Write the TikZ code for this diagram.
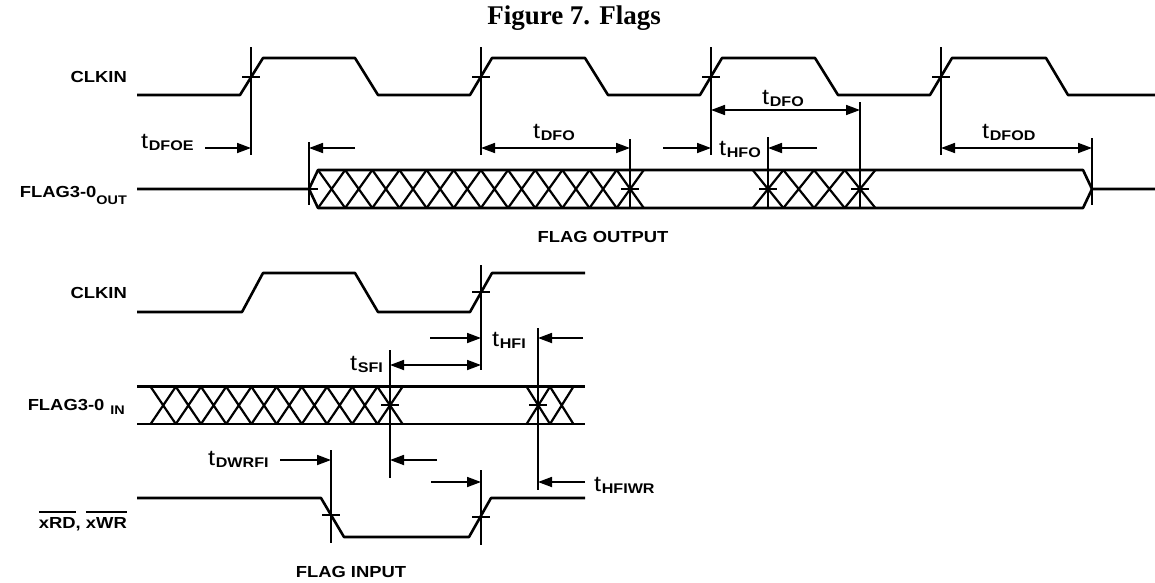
\documentclass[tikz,border=0pt]{standalone}
\usepackage{fontspec}
\setmainfont{Liberation Sans}
\newfontfamily\titlefont{Liberation Serif}
\usetikzlibrary{arrows.meta}
\newcommand\wideTxt[1]{\scalebox{1.15}[1]{#1}}
\newcommand\sig[1]{{\fontsize{16}{16}\selectfont\bfseries\wideTxt{#1}}}
\newcommand\subsig[1]{{\fontsize{12.5}{12.5}\selectfont\bfseries\wideTxt{#1}}}
\newcommand\tlab[1]{{\fontsize{22}{22}\selectfont\wideTxt{t}}\kern0.6pt\raisebox{-2pt}{\fontsize{14}{14}\selectfont\bfseries\wideTxt{#1}}}
\newcommand\ovl[1]{\vbox{\hrule height 1.7pt\kern 4pt\hbox{#1}}}
\tikzset{
  wave/.style={line width=2.6pt, line join=round},
  hatch/.style={line width=2.2pt},
  vline/.style={line width=1.1pt},
  tick/.style={line width=1.3pt},
  dim/.style={line width=1.7pt, >={Triangle[length=14pt,width=10pt]}},
  lab/.style={inner sep=0pt, anchor=base west},
  siglab/.style={inner sep=0pt, anchor=base east},
}
\begin{document}
\begin{tikzpicture}[x=1pt,y=-1pt]
\fill[white] (0,0) rectangle (1155,582);
\useasboundingbox (0,0) rectangle (1155,582);

% title
\node[inner sep=0pt] (title) at (574,18) {\titlefont\bfseries\fontsize{27}{27}\selectfont Figure 7. Flags};

% ---------------- FLAG OUTPUT ----------------
\node[siglab] (clk1) at (127,82) {\sig{CLKIN}};
\node[siglab] (fout) at (127,197) {\sig{FLAG3-0}\raisebox{-7pt}{\subsig{OUT}}};
\node[inner sep=0pt] (flagout) at (603,237) {\sig{FLAG OUTPUT}};

% clock
\draw[wave] (137,95) -- (240,95) -- (263,58) -- (355,58) -- (378,95) -- (470,95) -- (492,58)
  -- (585,58) -- (608,95) -- (700,95) -- (722,58) -- (815,58) -- (838,95) -- (930,95)
  -- (952,58) -- (1046,58) -- (1068,95) -- (1155,95);

% bus
\draw[wave] (137,189) -- (309,189) -- (318,170) -- (1083,170) -- (1092,189) -- (1155,189);
\draw[wave] (309,189) -- (318,208) -- (1083,208) -- (1092,189);
\foreach \k in {0,...,11} {
  \pgfmathsetmacro\xa{318+27.15*\k}
  \pgfmathsetmacro\xb{318+27.15*(\k+1)}
  \draw[hatch] (\xa,170) -- (\xb,208) (\xa,208) -- (\xb,170);
}
\foreach \k in {0,...,3} {
  \pgfmathsetmacro\xa{752.7+30.67*\k}
  \pgfmathsetmacro\xb{752.7+30.67*(\k+1)}
  \draw[hatch] (\xa,170) -- (\xb,208) (\xa,208) -- (\xb,170);
}

% vertical reference lines
\draw[vline] (251,47) -- (251,155);
\draw[vline] (481,47) -- (481,155);
\draw[vline] (711,47) -- (711,155);
\draw[vline] (941,47) -- (941,155);
\draw[vline] (309,142) -- (309,205);
\draw[vline] (630,139) -- (630,208);
\draw[vline] (768,137) -- (768,208);
\draw[vline] (860,102) -- (860,208);
\draw[vline] (1092,138) -- (1092,205);

% crossing ticks
\foreach \x in {251,481,711,941} \draw[tick] (\x-9,77) -- (\x+9,77);
\foreach \x in {309,630,768,860} \draw[tick] (\x-9,189) -- (\x+9,189);

% dimension coordinates
\coordinate (a1s) at (205,148); \coordinate (a1e) at (251,148);
\coordinate (a2s) at (355,148); \coordinate (a2e) at (309,148);
\coordinate (a3s) at (481,148); \coordinate (a3e) at (630,148);
\coordinate (a4s) at (663,148); \coordinate (a4e) at (711,148);
\coordinate (a5s) at (817,148); \coordinate (a5e) at (768,148);
\coordinate (a6s) at (711,110); \coordinate (a6e) at (860,110);
\coordinate (a7s) at (941,148); \coordinate (a7e) at (1092,148);
\draw[dim,->] (a1s) -- (a1e);
\draw[dim,->] (a2s) -- (a2e);
\draw[dim,<->] (a3s) -- (a3e);
\draw[dim,->] (a4s) -- (a4e);
\draw[dim,->] (a5s) -- (a5e);
\draw[dim,<->] (a6s) -- (a6e);
\draw[dim,<->] (a7s) -- (a7e);

\node[lab] (tdfoe) at (141,148) {\tlab{DFOE}};
\node[lab] (tdfo1) at (533,138) {\tlab{DFO}};
\node[lab] (tdfo2) at (762,104) {\tlab{DFO}};
\node[lab] (thfo) at (719,155) {\tlab{HFO}};
\node[lab] (tdfod) at (982,138) {\tlab{DFOD}};

% ---------------- FLAG INPUT ----------------
\node[siglab] (clk2) at (127,298) {\sig{CLKIN}};
\node[siglab] (fin) at (125,410) {\sig{FLAG3-0}\kern6pt\raisebox{-4pt}{\subsig{IN}}};
\node[siglab] (xrd) at (127,528) {\sig{\ovl{xRD}, \ovl{xWR}}};
\node[inner sep=0pt] (flagin) at (351,572) {\sig{FLAG INPUT}};

\draw[wave] (137,312) -- (242,312) -- (263,273) -- (355,273) -- (378,312) -- (470,312) -- (492,273) -- (585,273);

\draw[wave] (137,386.7) -- (585,386.7);
\draw[wave] (137,424) -- (585,424);
\foreach \k in {0,...,9} {
  \pgfmathsetmacro\xa{150.6+25.2*\k}
  \pgfmathsetmacro\xb{150.6+25.2*(\k+1)}
  \draw[hatch] (\xa,386.7) -- (\xb,424) (\xa,424) -- (\xb,386.7);
}
\foreach \k in {0,1} {
  \pgfmathsetmacro\xa{526.6+23.4*\k}
  \pgfmathsetmacro\xb{526.6+23.4*(\k+1)}
  \draw[hatch] (\xa,386.7) -- (\xb,424) (\xa,424) -- (\xb,386.7);
}

\draw[wave] (137,498) -- (321,498) -- (344,537) -- (469,537) -- (491,498) -- (585,498);

\draw[vline] (481,265) -- (481,370);
\draw[vline] (538,328) -- (538,490);
\draw[vline] (390,350) -- (390,478);
\draw[vline] (331,450) -- (331,543);
\draw[vline] (481,470) -- (481,545);

\draw[tick] (472,292) -- (490,292);
\draw[tick] (381,405) -- (399,405);
\draw[tick] (529,405) -- (547,405);
\draw[tick] (322,515) -- (340,515);
\draw[tick] (472,517) -- (490,517);

\coordinate (b1s) at (430,338); \coordinate (b1e) at (481,338);
\coordinate (b2s) at (583,338); \coordinate (b2e) at (538,338);
\coordinate (b3s) at (390,365); \coordinate (b3e) at (481,365);
\coordinate (b4s) at (280,460); \coordinate (b4e) at (331,460);
\coordinate (b5s) at (437,460); \coordinate (b5e) at (390,460);
\coordinate (b6s) at (431,482); \coordinate (b6e) at (481,482);
\coordinate (b7s) at (585,482); \coordinate (b7e) at (538,482);
\draw[dim,->] (b1s) -- (b1e);
\draw[dim,->] (b2s) -- (b2e);
\draw[dim,<->] (b3s) -- (b3e);
\draw[dim,->] (b4s) -- (b4e);
\draw[dim,->] (b5s) -- (b5e);
\draw[dim,->] (b6s) -- (b6e);
\draw[dim,->] (b7s) -- (b7e);

\node[lab] (thfi) at (492,346) {\tlab{HFI}};
\node[lab] (tsfi) at (350,370) {\tlab{SFI}};
\node[lab] (tdwrfi) at (208,465) {\tlab{DWRFI}};
\node[lab] (thfiwr) at (594,491) {\tlab{HFIWR}};
\end{tikzpicture}
\end{document}
